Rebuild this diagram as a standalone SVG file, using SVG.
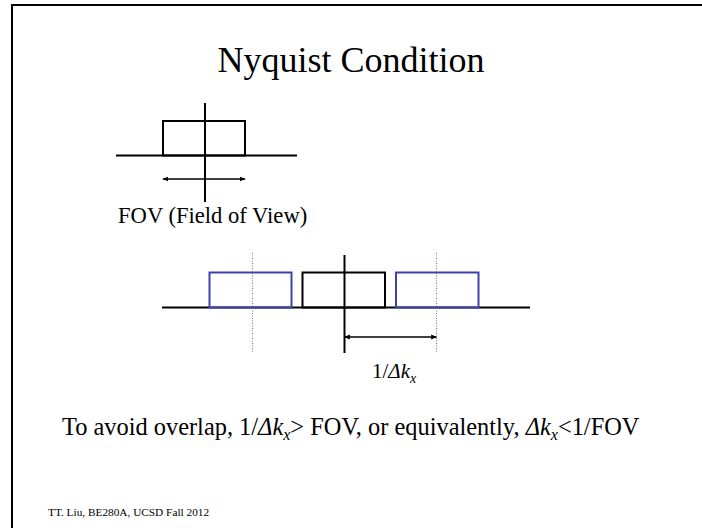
<svg xmlns="http://www.w3.org/2000/svg" width="702" height="528" viewBox="0 0 702 528">
<style>
.t{font-family:"Liberation Serif","Times New Roman",serif;fill:#000}
.ln{stroke:#000;stroke-width:2;fill:none}
.blue{stroke:#4040b0;stroke-width:2;fill:none}
.dot{stroke:#777;stroke-width:1;stroke-dasharray:1 1.5;fill:none}
.arr{stroke:#000;stroke-width:1.5;fill:none;marker-start:url(#ah);marker-end:url(#ah)}
</style>
<defs>
<marker id="ah" viewBox="0 0 10 10" refX="9" refY="5" markerWidth="6" markerHeight="6" orient="auto-start-reverse" markerUnits="userSpaceOnUse">
<path d="M0,1 L10,5 L0,9 Z" fill="#000"/>
</marker>
</defs>
<rect width="702" height="528" fill="#fff"/>
<g id="frame">
<path d="M12,528 V5 H702" class="ln"/>
</g>
<g id="title"><text class="t" x="351" y="72" font-size="36" text-anchor="middle">Nyquist Condition</text></g>
<g id="top-graph">
<line x1="116" y1="155.5" x2="297" y2="155.5" class="ln"/>
<rect x="163" y="121" width="82" height="34.5" class="ln"/>
<line x1="205" y1="103" x2="205" y2="202" class="ln"/>
</g>
<g id="connectors">
<line x1="163" y1="179" x2="245" y2="179" class="arr"/>
<line x1="344.5" y1="337" x2="436.5" y2="337" class="arr"/>
</g>
<g id="fov-label"><text class="t" x="118" y="223" font-size="22.6">FOV (Field of View)</text></g>
<g id="bottom-graph">
<line x1="162" y1="307.5" x2="530" y2="307.5" class="ln"/>
<rect x="209.5" y="272.5" width="82" height="35" class="blue"/>
<rect x="302.5" y="272.5" width="82.5" height="35" class="ln"/>
<rect x="396" y="272.5" width="82.5" height="35" class="blue"/>
<line x1="252.5" y1="253" x2="252.5" y2="353" class="dot"/>
<line x1="436.5" y1="253" x2="436.5" y2="353" class="dot"/>
<line x1="344.5" y1="255" x2="344.5" y2="353" class="ln"/>
</g>
<g id="dk-label"><text class="t" x="372" y="378" font-size="21">1/<tspan font-style="italic">Δk</tspan><tspan font-style="italic" font-size="14" dy="5">x</tspan></text></g>
<g id="statement"><text class="t" x="62" y="435" font-size="24.4">To avoid overlap, 1/<tspan font-style="italic">Δk</tspan><tspan font-style="italic" font-size="16" dy="5">x</tspan><tspan dy="-5">&gt; FOV, or equivalently, </tspan><tspan font-style="italic">Δk</tspan><tspan font-style="italic" font-size="16" dy="5">x</tspan><tspan dy="-5">&lt;1/FOV</tspan></text></g>
<g id="footer"><text class="t" x="48" y="516" font-size="11.3">TT. Liu, BE280A, UCSD Fall 2012</text></g>
</svg>
